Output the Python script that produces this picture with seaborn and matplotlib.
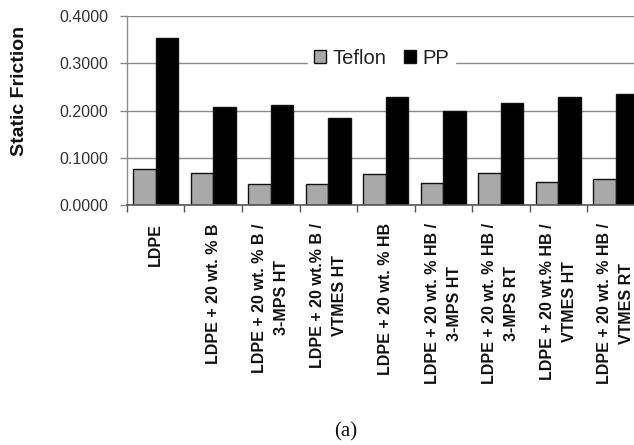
import matplotlib
matplotlib.use("Agg")
import matplotlib.pyplot as plt
import seaborn as sns
import pandas as pd
from matplotlib.ticker import FixedLocator, FormatStrFormatter

categories = [
    "LDPE",
    "LDPE + 20 wt. % B",
    "LDPE + 20 wt. % B /\n3-MPS HT",
    "LDPE + 20 wt.% B /\nVTMES HT",
    "LDPE + 20 wt. % HB",
    "LDPE + 20 wt. % HB /\n3-MPS HT",
    "LDPE + 20 wt. % HB /\n3-MPS RT",
    "LDPE + 20 wt.% HB /\nVTMES HT",
    "LDPE + 20 wt. % HB /\nVTMES RT",
]
teflon = [0.076, 0.068, 0.044, 0.044, 0.065, 0.047, 0.068, 0.049, 0.055]
pp = [0.353, 0.207, 0.212, 0.184, 0.229, 0.199, 0.216, 0.229, 0.235]
series = ["Teflon", "PP"]
yticks = [0.0, 0.1, 0.2, 0.3, 0.4]

df = pd.DataFrame({
    "Sample": categories * 2,
    "Surface": [series[0]] * len(categories) + [series[1]] * len(categories),
    "Static Friction": teflon + pp,
})

sns.set_theme(style="white")
plt.rcParams["font.family"] = ["Liberation Sans", "DejaVu Sans"]

fig = plt.figure(figsize=(6.34, 4.45), dpi=100)
ax = fig.add_axes([0.2003, 0.539, 0.8163, 0.4247])

sns.barplot(
    data=df, x="Sample", y="Static Friction", hue="Surface",
    order=categories, hue_order=series,
    palette={"Teflon": "#a9a9a9", "PP": "#000000"},
    width=0.78, edgecolor="#111111", linewidth=1.0,
    ax=ax, legend=True,
)

ax.set_xlim(-0.5, len(categories) - 0.5)
ax.set_ylim(0, 0.4)
ax.set_yticks(yticks)
ax.yaxis.set_major_formatter(FormatStrFormatter("%.4f"))
ax.grid(axis="y", color="#8a8a8a", linewidth=1.0)
ax.set_axisbelow(True)

for side in ["top", "right"]:
    ax.spines[side].set_visible(False)
ax.spines["left"].set_color("#8a8a8a")
ax.spines["bottom"].set_color("#555555")
ax.spines["left"].set_linewidth(1.0)
ax.spines["bottom"].set_linewidth(1.2)

# category boundaries carry the tick marks, labels sit at the centres
ax.xaxis.set_minor_locator(FixedLocator([i - 0.5 for i in range(len(categories) + 1)]))
ax.tick_params(axis="x", which="minor", bottom=True, length=5, width=1, color="#555555")
ax.tick_params(axis="x", which="major", bottom=True, length=0, pad=13)
ax.tick_params(axis="y", which="major", left=True, length=5, width=1, color="#8a8a8a",
               pad=8.5, labelsize=11.5, labelcolor="#333333")

ax.set_xticks(range(len(categories)))
ax.set_xticklabels(categories, rotation=90, fontsize=11.5, fontweight="bold",
                   ha="center", va="top", multialignment="center", color="#111111",
                   linespacing=1.6)
ax.set_xlabel("")

ax.set_ylabel("Static Friction", fontsize=14, fontweight="bold", color="#111111")
ax.yaxis.label.set_va("center")
ax.yaxis.set_label_coords(-0.207, 0.603)

handles, labels = ax.get_legend_handles_labels()
leg = ax.legend(handles, labels, loc="center", bbox_to_anchor=(0.492, 0.778),
                ncol=2, frameon=True, fontsize=14.5, handlelength=0.6, handleheight=0.6,
                handletextpad=0.3, columnspacing=0.9, borderpad=0.3)
leg.get_frame().set_facecolor("white")
leg.get_frame().set_edgecolor("white")
leg.get_frame().set_alpha(1.0)
for t in leg.get_texts():
    t.set_color("#222222")

fig.text(346 / 634, 1 - 432 / 445, "(a)", family=["Liberation Serif", "DejaVu Serif"],
         fontsize=15, ha="center", va="center", color="#111111")

fig.savefig("out.png", dpi=100)
